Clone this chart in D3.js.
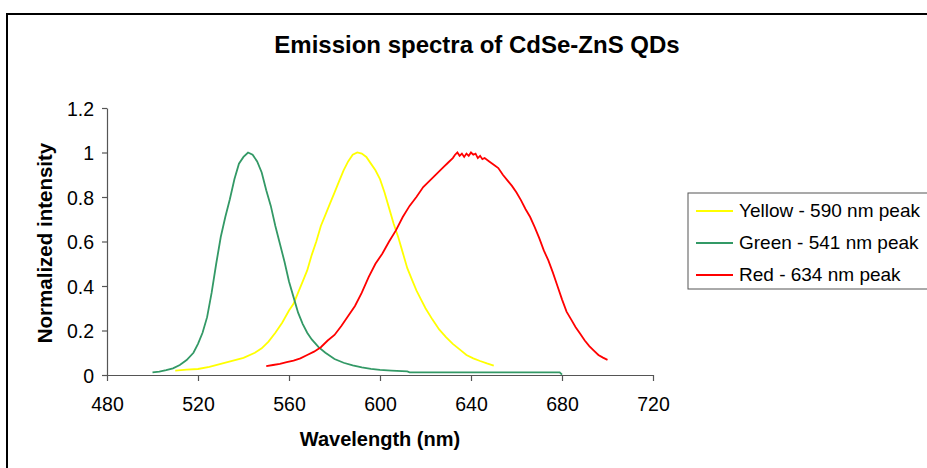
<!DOCTYPE html>
<html>
<head>
<meta charset="utf-8">
<script src="https://cdn.jsdelivr.net/npm/d3@7"></script>
<style>
  body { margin: 0; background: #fff; }
  svg { display: block; font-family: Arial, "Liberation Sans", sans-serif; }
</style>
</head>
<body>
<div id="chart"></div>
<script>
var width = 927;
var height = 468;

// wavelength (nm) / normalized intensity
var greenNm = [500, 503, 506, 509, 512, 515, 518, 520, 522, 524, 526, 528, 530, 532, 534, 536, 538, 540, 542, 544, 546, 548, 550, 552, 554, 556, 558, 560, 562, 564, 566, 568, 570, 573, 576, 580, 584, 588, 592, 596, 600, 605, 612, 613, 620, 640, 660, 679, 680];
var greenVal = [0.012, 0.015, 0.022, 0.03, 0.045, 0.067, 0.1, 0.14, 0.19, 0.26, 0.37, 0.5, 0.62, 0.71, 0.79, 0.88, 0.95, 0.98, 1.0, 0.99, 0.96, 0.91, 0.83, 0.76, 0.67, 0.59, 0.51, 0.42, 0.35, 0.28, 0.23, 0.19, 0.16, 0.125, 0.1, 0.072, 0.055, 0.043, 0.034, 0.028, 0.023, 0.02, 0.016, 0.012, 0.012, 0.012, 0.012, 0.012, 0.002];

var yellowNm = [510, 515, 520, 525, 530, 535, 540, 545, 548, 551, 554, 557, 560, 562, 564, 566, 568, 570, 572, 574, 576, 578, 580, 582, 584, 586, 588, 590, 592, 594, 596, 598, 600, 602, 604, 606, 608, 610, 612, 614, 616, 618, 620, 623, 626, 629, 632, 635, 638, 641, 644, 647, 650];
var yellowVal = [0.02, 0.024, 0.027, 0.037, 0.05, 0.063, 0.077, 0.1, 0.12, 0.15, 0.19, 0.235, 0.29, 0.32, 0.37, 0.42, 0.47, 0.54, 0.6, 0.67, 0.72, 0.77, 0.82, 0.87, 0.92, 0.96, 0.99, 1.0, 0.995, 0.98, 0.95, 0.92, 0.88, 0.82, 0.75, 0.68, 0.62, 0.55, 0.48, 0.43, 0.38, 0.34, 0.3, 0.25, 0.205, 0.17, 0.14, 0.115, 0.09, 0.075, 0.063, 0.052, 0.042];

var redNm = [550, 553, 556, 559, 562, 565, 568, 571, 574, 577, 580, 583, 586, 589, 592, 595, 598, 601, 604, 607, 610, 613, 616, 619, 622, 625, 628, 630, 632, 633, 634, 635, 636, 637, 638, 639, 640, 641, 642, 643, 644, 645, 646, 648, 650, 652, 654, 656, 658, 660, 662, 664, 666, 668, 670, 672, 674, 676, 678, 680, 682, 684, 686, 688, 690, 692, 694, 696, 698, 700];
var redVal = [0.04, 0.045, 0.05, 0.058, 0.065, 0.075, 0.09, 0.105, 0.125, 0.155, 0.18, 0.22, 0.265, 0.31, 0.37, 0.44, 0.5, 0.545, 0.6, 0.65, 0.71, 0.76, 0.8, 0.845, 0.875, 0.905, 0.935, 0.955, 0.975, 0.99, 1.0, 0.985, 0.995, 0.98, 0.995, 0.985, 1.0, 0.99, 0.995, 0.975, 0.985, 0.97, 0.975, 0.96, 0.945, 0.93, 0.9, 0.875, 0.85, 0.82, 0.785, 0.745, 0.71, 0.665, 0.615, 0.56, 0.515, 0.46, 0.4, 0.34, 0.285, 0.25, 0.215, 0.185, 0.155, 0.13, 0.11, 0.09, 0.078, 0.068];

var seriesNames = ["Yellow - 590 nm peak", "Green - 541 nm peak", "Red - 634 nm peak"];
var seriesColors = ["#ffff00", "#339966", "#ff0000"];

var xTicks = [480, 520, 560, 600, 640, 680, 720];
var yTicks = [0, 0.2, 0.4, 0.6, 0.8, 1, 1.2];

function pairs(xs, ys) {
  return xs.map(function(x, i) { return { nm: x, v: ys[i] }; });
}
var series = [pairs(yellowNm, yellowVal), pairs(greenNm, greenVal), pairs(redNm, redVal)];

var svg = d3.select("#chart").append("svg")
  .attr("width", width)
  .attr("height", height);

// outer chart border (runs off the right / bottom edge)
svg.append("rect")
  .attr("x", 7).attr("y", 14)
  .attr("width", 960).attr("height", 500)
  .attr("fill", "none")
  .attr("stroke", "#000")
  .attr("stroke-width", 2);

var xScale = d3.scaleLinear().domain([480, 720]).range([107, 653]);
var yScale = d3.scaleLinear().domain([0, 1.2]).range([375, 108]);

var xAxis = d3.axisBottom(xScale).tickValues(xTicks).tickSize(6).tickSizeOuter(0)
  .tickFormat(d3.format("d"));
var yAxis = d3.axisLeft(yScale).tickValues(yTicks).tickSize(5).tickSizeOuter(0)
  .tickFormat(function(d) { return String(+d.toFixed(1)); });

var gx = svg.append("g").attr("transform", "translate(0,375)").call(xAxis);
var gy = svg.append("g").attr("transform", "translate(107,0)").call(yAxis);

[gx, gy].forEach(function(g) {
  g.selectAll("path, line").attr("stroke", "#555").attr("stroke-width", 1.2);
  g.selectAll("text").attr("fill", "#000").style("font-size", "19.5px");
});
gx.selectAll("text").attr("dy", null).attr("y", 36);
gy.selectAll("text").attr("x", -13).attr("dy", "0.36em");

var line = d3.line()
  .x(function(d) { return xScale(d.nm); })
  .y(function(d) { return yScale(d.v); });

svg.selectAll(".series")
  .data(series)
  .enter()
  .append("path")
  .attr("class", "series")
  .attr("d", line)
  .attr("fill", "none")
  .attr("stroke", function(d, i) { return seriesColors[i]; })
  .attr("stroke-width", 1.8);

// titles
svg.append("text")
  .attr("x", 477).attr("y", 53)
  .attr("text-anchor", "middle")
  .style("font-size", "24px").style("font-weight", "bold")
  .text("Emission spectra of CdSe-ZnS QDs");

svg.append("text")
  .attr("x", 380).attr("y", 446)
  .attr("text-anchor", "middle")
  .style("font-size", "20px").style("font-weight", "bold")
  .text("Wavelength (nm)");

svg.append("text")
  .attr("transform", "translate(52,243) rotate(-90)")
  .attr("text-anchor", "middle")
  .style("font-size", "20.5px").style("font-weight", "bold")
  .text("Normalized intensity");

// legend
var legend = svg.append("g");
legend.append("rect")
  .attr("x", 688).attr("y", 193)
  .attr("width", 260).attr("height", 96)
  .attr("fill", "#fff")
  .attr("stroke", "#555")
  .attr("stroke-width", 1);

var rows = legend.selectAll(".row")
  .data(seriesNames)
  .enter()
  .append("g")
  .attr("class", "row")
  .attr("transform", function(d, i) { return "translate(0," + (211 + i * 32) + ")"; });

rows.append("line")
  .attr("x1", 696).attr("x2", 733)
  .attr("y1", 0).attr("y2", 0)
  .attr("stroke", function(d, i) { return seriesColors[i]; })
  .attr("stroke-width", 1.8);

rows.append("text")
  .attr("x", 739).attr("y", 5.5)
  .style("font-size", "19px")
  .text(function(d) { return d; });
</script>
</body>
</html>
